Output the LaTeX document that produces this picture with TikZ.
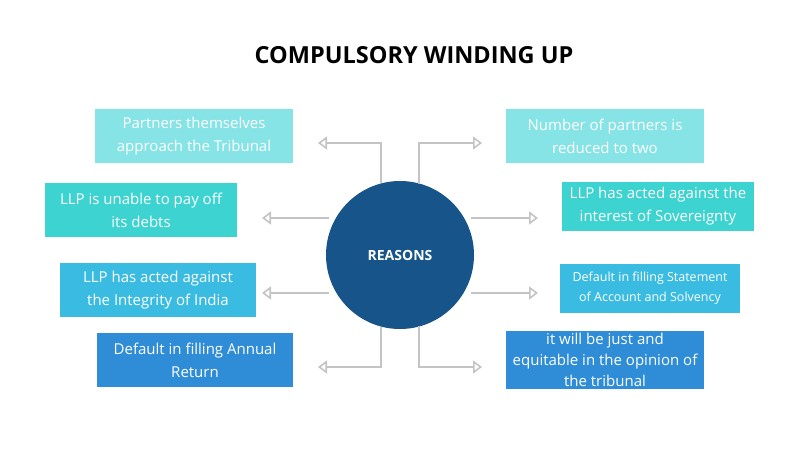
\documentclass[tikz,border=0pt]{standalone}
\usepackage{fontspec}
\setmainfont{Open Sans}
\usetikzlibrary{arrows.meta}
\definecolor{c1}{HTML}{86E3E6}
\definecolor{c2}{HTML}{3CD3D0}
\definecolor{c3}{HTML}{3ABCE2}
\definecolor{c4}{HTML}{2F8CD6}
\definecolor{circ}{HTML}{175489}
\definecolor{ln}{HTML}{C4C4C4}
\begin{document}
\begin{tikzpicture}[x=1pt,y=-1pt,
  box/.style={minimum width=#1, minimum height=54pt, inner sep=2pt, align=center, text=white, font=\fontsize{15}{23}\selectfont},
  conn/.style={draw=ln, line width=1.6pt, -{Triangle[open,length=9pt,width=13pt,fill=white]}}]
\useasboundingbox (0,0) rectangle (800,450);
\node[font=\bfseries\fontsize{23.5}{28}\selectfont] (title) at (414,55) {COMPULSORY WINDING UP};
\node[circle, fill=circ, minimum size=148pt, inner sep=0pt, text=white, font=\bfseries\fontsize{14}{16}\selectfont] (c) at (400,255) {REASONS};
\node[box=198pt, fill=c1] (l1) at (194,136) {Partners themselves\\approach the Tribunal};
\node[box=192pt, fill=c2] (l2) at (141,210) {LLP is unable to pay off\\its debts};
\node[box=196pt, fill=c3] (l3) at (158,290) {LLP has acted against\\the Integrity of India};
\node[box=196pt, fill=c4] (l4) at (195,360) {Default in filling Annual\\Return};
\node[box=198pt, fill=c1] (r1) at (605,136) {Number of partners is\\reduced to two};
\node[box=192pt, fill=c2, minimum height=49pt] (r2) at (658,206) {LLP has acted against the\\interest of Sovereignty};
\node[box=180pt, fill=c3, minimum height=49pt, font=\fontsize{12.5}{20}\selectfont] (r3) at (650,288) {Default in filling Statement\\of Account and Solvency};
\node[box=198pt, fill=c4, font=\fontsize{15}{21}\selectfont] (r4) at (605,360) {it will be just and\\equitable in the opinion of\\the tribunal};
\coordinate (t1) at (318,143); \coordinate (t2) at (482,143);
\coordinate (t3) at (262,218); \coordinate (t4) at (538,218);
\coordinate (t5) at (262,293); \coordinate (t6) at (538,293);
\coordinate (t7) at (318,367); \coordinate (t8) at (482,367);
\draw[conn] (381,183) |- (t1);
\draw[conn] (419,184) |- (t2);
\draw[conn] (c.west |- t3) ++(3,0) -- (t3);
\draw[conn] (c.east |- t4) ++(-3,0) -- (t4);
\draw[conn] (c.west |- t5) ++(3,0) -- (t5);
\draw[conn] (c.east |- t6) ++(-3,0) -- (t6);
\draw[conn] (381,327) |- (t7);
\draw[conn] (419,326) |- (t8);
\end{tikzpicture}
\end{document}
